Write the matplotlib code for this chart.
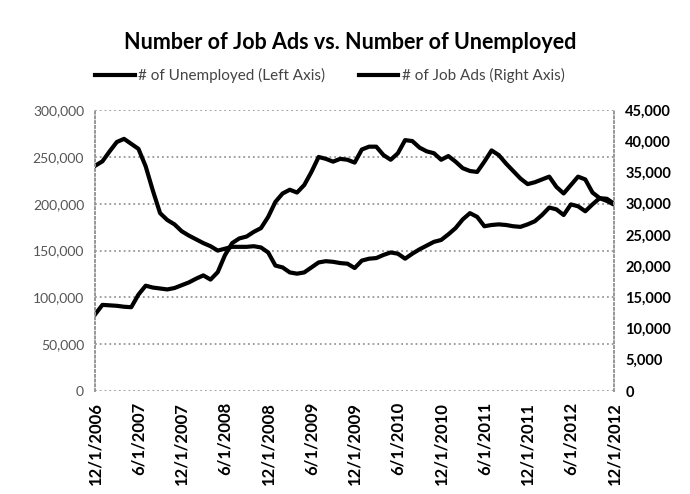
import matplotlib
matplotlib.use("Agg")
import matplotlib.pyplot as plt

# ------------------------------
# Data (monthly, 12/2006 - 12/2012)
# ------------------------------
months = list(range(73))
tick_labels = ["12/1/2006", "6/1/2007", "12/1/2007", "6/1/2008", "12/1/2008",
               "6/1/2009", "12/1/2009", "6/1/2010", "12/1/2010", "6/1/2011",
               "12/1/2011", "6/1/2012", "12/1/2012"]

unemployed = [82000, 92000, 91500, 91000, 90000, 89500, 103000, 112500, 110500, 109500,
              108500, 110000, 113000, 116000, 120000, 123500, 119000, 127000, 145000, 158000,
              163000, 165000, 170000, 174000, 186000, 202000, 211000, 215000, 212000, 220000,
              234000, 250000, 248000, 245000, 248000, 247000, 244000, 258000, 261000, 261000,
              252000, 247000, 254000, 268000, 267000, 260000, 256000, 254000, 247000, 251000,
              245000, 238000, 235000, 234000, 245000, 257000, 252000, 243000, 235000, 227000,
              221000, 223000, 226000, 229000, 218000, 211000, 220000, 229000, 226000, 212000,
              206000, 203000, 199000]

job_ads = [36100, 36800, 38400, 39900, 40400, 39600, 38800, 36000, 32100, 28500,
           27400, 26700, 25600, 24900, 24300, 23700, 23200, 22500, 22800, 23100,
           23100, 23100, 23200, 23000, 22200, 20100, 19800, 19000, 18800, 19000,
           19800, 20600, 20800, 20700, 20500, 20400, 19700, 20900, 21200, 21300,
           21800, 22200, 22000, 21200, 22000, 22700, 23300, 23900, 24200, 25100,
           26100, 27500, 28500, 27900, 26400, 26600, 26700, 26600, 26400, 26300,
           26700, 27200, 28200, 29400, 29100, 28200, 29900, 29600, 28800, 29900,
           30900, 30800, 30000]

left_ticks = [0, 50000, 100000, 150000, 200000, 250000, 300000]
right_ticks = [0, 5000, 10000, 15000, 20000, 25000, 30000, 35000, 40000, 45000]

# ------------------------------
# Plotting
# ------------------------------
plt.rcParams["font.family"] = ["Lato", "DejaVu Sans"]

fig = plt.figure(figsize=(6.9, 4.94), dpi=100)
ax = fig.add_axes([0.138, 0.2085, 0.752, 0.5685])
ax2 = ax.twinx()

l1, = ax.plot(months, unemployed, color="black", lw=3, label="# of Unemployed (Left Axis)")
l2, = ax2.plot(months, job_ads, color="black", lw=3, label="# of Job Ads (Right Axis)")

ax.set_xlim(0, 72)
ax.set_ylim(0, 300000)
ax2.set_ylim(0, 45000)

ax.set_yticks(left_ticks)
ax.set_yticklabels([f"{v:,}" for v in left_ticks], color="#555555", fontsize=10)
ax2.set_yticks(right_ticks)
ax2.set_yticklabels([f"{v:,}" for v in right_ticks], fontweight="bold", fontsize=10.5)

ax.set_xticks(list(range(0, 73, 6)))
ax.set_xticklabels(tick_labels, rotation=90, fontweight="bold", fontsize=12)

# dotted horizontal gridlines at the left-axis ticks
ax.yaxis.grid(True, color="#999999", linestyle=":", lw=1.3)
ax.set_axisbelow(True)

for a in (ax, ax2):
    a.tick_params(length=0, pad=8)
    a.spines["top"].set_visible(False)
    a.spines["bottom"].set_visible(False)
    for s in ("left", "right"):
        a.spines[s].set_color("#999999")
        a.spines[s].set_linestyle(":")
        a.spines[s].set_linewidth(1.3)

fig.suptitle("Number of Job Ads vs. Number of Unemployed", x=0.508, y=0.935,
             fontsize=15.5, fontweight="bold")
fig.legend(handles=[l1, l2], loc="center", bbox_to_anchor=(0.478, 0.847), ncol=2,
           frameon=False, fontsize=11, labelcolor="#444444", handlelength=2.6,
           handletextpad=0.2, columnspacing=2.2)

plt.savefig("out.png", dpi=100)
